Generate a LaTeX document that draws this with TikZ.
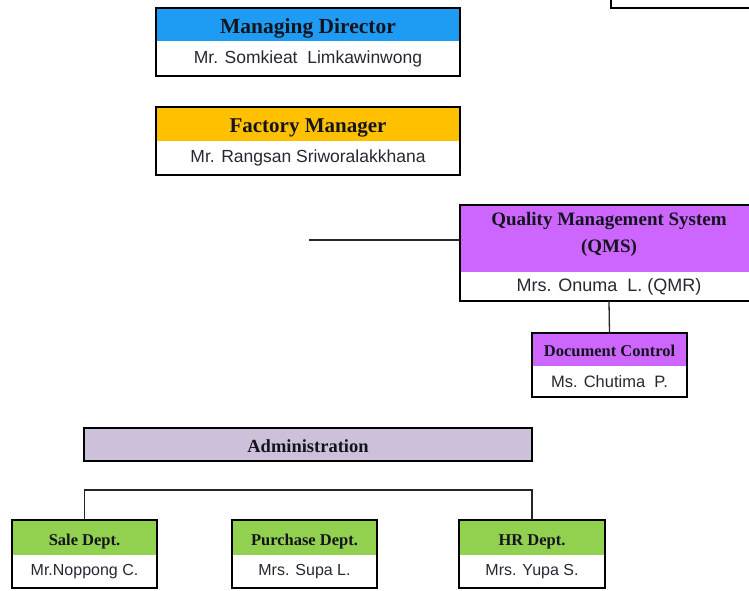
\documentclass[tikz,border=0pt]{standalone}
\usepackage{fontspec}
\setmainfont{Liberation Serif}
\newfontfamily\arialf{Liberation Sans}
\definecolor{mdblue}{RGB}{30,155,242}
\definecolor{fmorange}{RGB}{255,192,0}
\definecolor{qviolet}{RGB}{204,102,255}
\definecolor{admlav}{RGB}{204,192,218}
\definecolor{dgreen}{RGB}{146,208,80}
\definecolor{nametext}{RGB}{40,40,52}
\definecolor{hdtext}{RGB}{20,20,30}
\newcommand\hdlow[2]{\raisebox{-#1}[\height][\depth]{#2}}
\begin{document}
\begin{tikzpicture}[x=1pt,y=-1pt,
  hd/.style={anchor=north west, inner sep=0pt, outer sep=0pt, align=center, text=hdtext},
  nm/.style={anchor=north west, inner sep=0pt, outer sep=0pt, fill=white, text=nametext, align=center},
  frame/.style={draw=black, line width=2.4pt, line join=miter},
  conn/.style={draw=black!85, line width=1.3pt}]
\useasboundingbox[fill=white] (0,0) rectangle (749,590);

% partial box at top right
\draw[frame] (611,-20) -- (611,8) -- (770,8);

% Managing Director
\node[hd, fill=mdblue, minimum width=304pt, minimum height=33pt, font=\fontsize{21.5}{23}\selectfont\bfseries] (mdh) at (156,8) {\hdlow{3.5pt}{Managing Director}};
\node[nm, minimum width=304pt, minimum height=35pt, font=\arialf\fontsize{17.5}{19}\selectfont] (mdn) at (mdh.south west) {Mr. Somkieat\ \ Limkawinwong};
\draw[frame] (mdh.north west) rectangle (mdn.south east);

% Factory Manager
\node[hd, fill=fmorange, minimum width=304pt, minimum height=34pt, font=\fontsize{21}{23}\selectfont\bfseries] (fmh) at (156,107) {\hdlow{3.5pt}{Factory Manager}};
\node[nm, minimum width=304pt, minimum height=34pt, font=\arialf\fontsize{17.5}{19}\selectfont] (fmn) at (fmh.south west) {Mr. Rangsan Sriworalakkhana};
\draw[frame] (fmh.north west) rectangle (fmn.south east);

% QMS
\node[hd, fill=qviolet, minimum width=298pt, minimum height=67pt] (qmsh) at (460,205) {};
\node[align=center, inner sep=0pt, text=hdtext, font=\fontsize{19}{27}\selectfont\bfseries] (qmst) at (609,234.5) {Quality Management System\\(QMS)};
\node[nm, minimum width=298pt, minimum height=29pt, font=\arialf\fontsize{18}{19}\selectfont] (qmsn) at (qmsh.south west) {Mrs. Onuma\ \ L. (QMR)};
\draw[frame] (qmsh.north west) rectangle (qmsn.south east);

\coordinate (qin) at (309,240);
\draw[conn] (qin) -- (qin -| qmsh.west);

% Document Control
\node[hd, fill=qviolet, minimum width=155pt, minimum height=33pt, font=\fontsize{16.5}{18}\selectfont\bfseries] (doch) at (532,333) {\hdlow{1pt}{Document Control}};
\node[nm, minimum width=155pt, minimum height=31pt, font=\arialf\fontsize{16.5}{18}\selectfont] (docn) at (doch.south west) {Ms. Chutima\ \ P.};
\draw[frame] (doch.north west) rectangle (docn.south east);
\draw[conn] (qmsn.south) -- (doch.north);

% Administration
\node[hd, fill=admlav, minimum width=448pt, minimum height=33pt, font=\fontsize{18.5}{20}\selectfont\bfseries] (adm) at (84,428) {\hdlow{2pt}{Administration}};
\draw[frame] (adm.north west) rectangle (adm.south east);

% Departments
\node[hd, fill=dgreen, minimum width=145pt, minimum height=35pt, font=\fontsize{16.5}{18}\selectfont\bfseries] (saleh) at (12,520) {\hdlow{4pt}{Sale Dept.}};
\node[nm, minimum width=145pt, minimum height=33pt, font=\arialf\fontsize{16}{18}\selectfont] (salen) at (saleh.south west) {Mr.Noppong C.};
\draw[frame] (saleh.north west) rectangle (salen.south east);

\node[hd, fill=dgreen, minimum width=145pt, minimum height=35pt, font=\fontsize{16.5}{18}\selectfont\bfseries] (purh) at (232,520) {\hdlow{4pt}{Purchase Dept.}};
\node[nm, minimum width=145pt, minimum height=33pt, font=\arialf\fontsize{16}{18}\selectfont] (purn) at (purh.south west) {Mrs. Supa L.};
\draw[frame] (purh.north west) rectangle (purn.south east);

\node[hd, fill=dgreen, minimum width=146pt, minimum height=35pt, font=\fontsize{16.5}{18}\selectfont\bfseries] (hrh) at (459,520) {\hdlow{4pt}{HR Dept.}};
\node[nm, minimum width=146pt, minimum height=33pt, font=\arialf\fontsize{16}{18}\selectfont] (hrn) at (hrh.south west) {Mrs. Yupa\ S.};
\draw[frame] (hrh.north west) rectangle (hrn.south east);

\draw[conn] (saleh.north) -- ++(0,-30) -| (hrh.north);
\end{tikzpicture}
\end{document}
